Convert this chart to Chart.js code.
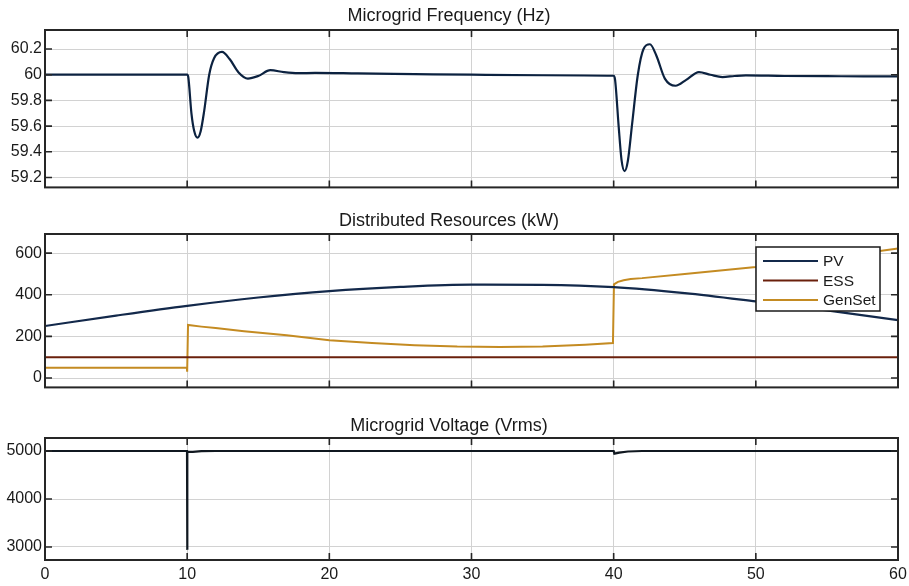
<!doctype html>
<html lang="en">
<head>
  <meta charset="utf-8">
  <title>Microgrid</title>
  <style>
    html, body { margin: 0; padding: 0; background: #fff; }
    #wrap { position: relative; width: 909px; height: 586px; }
    canvas { position: absolute; left: 0; }
  </style>
</head>
<body>
  <div id="wrap">
    <canvas id="freqChart" width="909" height="200" style="top:0"></canvas>
    <canvas id="powerChart" width="909" height="200" style="top:200px"></canvas>
    <canvas id="voltChart" width="909" height="186" style="top:400px"></canvas>
  </div>

  <script src="https://cdn.jsdelivr.net/npm/chart.js@4.4.2/dist/chart.umd.min.js"></script>
  <script>
    // tick labels
    const timeTicks = [0, 10, 20, 30, 40, 50, 60];
    const freqTicks = [59.2, 59.4, 59.6, 59.8, 60, 60.2];
    const powerTicks = [0, 200, 400, 600];
    const voltTicks = [3000, 4000, 5000];

    // Microgrid frequency (Hz)
    const freqT = [0, 10, 10.08, 10.3, 10.5, 10.73, 10.95, 11.2, 11.55, 11.9, 12.45, 13.0, 13.6, 14.27, 15.0, 15.85, 16.8, 17.8, 19, 22, 26, 30, 35, 40,
      40.1, 40.35, 40.55, 40.77, 41.0, 41.3, 41.7, 42.1, 42.55, 43.0, 43.6, 44.35, 45.1, 46.0, 46.8, 47.65, 48.5, 49.3, 52, 56, 60];
    const freqHz = [60, 60, 59.98, 59.7, 59.56, 59.51, 59.56, 59.72, 60.0, 60.13, 60.178, 60.12, 60.02, 59.97, 59.99, 60.035, 60.02, 60.012, 60.014, 60.01, 60.005, 60.0, 59.996, 59.992,
      59.96, 59.6, 59.34, 59.25, 59.33, 59.62, 60.0, 60.2, 60.237, 60.15, 59.97, 59.914, 59.96, 60.02, 60.0, 59.982, 59.99, 59.995, 59.99, 59.988, 59.987];

    // Distributed resources (kW)
    const pvT = [0, 5, 10, 15, 20, 25, 30, 35, 40, 45, 50, 55, 60];
    const pvKw = [250, 300, 347, 387, 418, 438, 449, 448, 437, 408, 368, 325, 278];
    const essT = [0, 60];
    const essKw = [100, 100];
    const genT = [0, 9.98, 10.0, 10.06, 11, 12, 14, 17, 20, 23, 26, 29, 32, 35, 38, 39.95, 40.02, 40.3, 40.7, 41.2, 42, 45, 50, 55, 60];
    const genKw = [50, 50, 30, 255, 247, 240, 225, 205, 182, 168, 158, 151, 149, 152, 160, 168, 450, 462, 470, 476, 480, 500, 533, 575, 622];

    // Microgrid voltage (Vrms)
    const voltT = [0, 9.99, 10.0, 10.02, 10.4, 11, 12, 40, 40.05, 40.4, 41, 42, 60];
    const voltV = [5000, 5000, 2940, 4985, 4982, 4998, 5000, 5000, 4945, 4965, 4990, 5000, 5000];

    Chart.defaults.font.family = '"Liberation Sans", Arial, Helvetica, sans-serif';
    Chart.defaults.color = '#1a1a1a';

    const pts = (xs, ys) => xs.map((x, i) => ({ x: x, y: ys[i] }));

    // MATLAB-ish box with inward ticks
    const frame = {
      id: 'frame',
      afterDatasetsDraw(chart) {
        const { ctx, chartArea: a, scales } = chart;
        ctx.save();
        ctx.strokeStyle = '#262626';
        ctx.lineWidth = 1.6;
        ctx.beginPath();
        scales.x.ticks.forEach(t => {
          const px = scales.x.getPixelForValue(t.value);
          ctx.moveTo(px, a.bottom); ctx.lineTo(px, a.bottom - 7);
          ctx.moveTo(px, a.top); ctx.lineTo(px, a.top + 7);
        });
        scales.y.ticks.forEach(t => {
          const py = scales.y.getPixelForValue(t.value);
          ctx.moveTo(a.left, py); ctx.lineTo(a.left + 7, py);
          ctx.moveTo(a.right, py); ctx.lineTo(a.right - 7, py);
        });
        ctx.stroke();
        ctx.lineWidth = 2;
        ctx.strokeRect(a.left, a.top, a.width, a.height);
        ctx.restore();
      }
    };

    // legend box inside the plot, top right
    const boxLegend = {
      id: 'boxLegend',
      afterDraw(chart) {
        const { ctx, chartArea: a } = chart;
        const w = 124, h = 64;
        const left = a.right - 18 - w, top = a.top + 13;
        ctx.save();
        ctx.fillStyle = '#fff';
        ctx.fillRect(left, top, w, h);
        ctx.strokeStyle = '#1a1a1a';
        ctx.lineWidth = 1.5;
        ctx.strokeRect(left, top, w, h);
        ctx.font = '15.5px "Liberation Sans", Arial, sans-serif';
        ctx.textBaseline = 'middle';
        ctx.fillStyle = '#1a1a1a';
        chart.data.datasets.forEach((ds, i) => {
          const y = top + 14 + i * 19.5;
          ctx.strokeStyle = ds.borderColor;
          ctx.lineWidth = 2;
          ctx.beginPath();
          ctx.moveTo(left + 7, y); ctx.lineTo(left + 62, y);
          ctx.stroke();
          ctx.fillText(ds.label, left + 67, y + 1);
        });
        ctx.restore();
      }
    };

    function makeOptions(title, pad, yMin, yMax, yTicks, xHeight, showX) {
      return {
        responsive: false,
        animation: false,
        layout: { padding: { left: 0, right: 11, top: 0, bottom: 0 } },
        plugins: {
          legend: { display: false },
          tooltip: { enabled: false },
          title: {
            display: true,
            text: title,
            color: '#1a1a1a',
            font: { size: 18, weight: 'normal', lineHeight: 1.2 },
            padding: { top: pad[0], bottom: pad[1] }
          }
        },
        scales: {
          x: {
            type: 'linear',
            min: 0,
            max: 60,
            afterBuildTicks: s => { s.ticks = timeTicks.map(v => ({ value: v })); },
            afterFit: s => { s.height = xHeight; s.paddingLeft = 0; s.paddingRight = 0; },
            grid: { color: '#d2d2d2', lineWidth: 1, drawTicks: false },
            border: { display: false },
            ticks: { display: showX, padding: 5, font: { size: 16 }, maxRotation: 0 }
          },
          y: {
            min: yMin,
            max: yMax,
            afterBuildTicks: s => { s.ticks = yTicks.map(v => ({ value: v })); },
            afterFit: s => { s.width = 45; },
            grid: { color: '#d2d2d2', lineWidth: 1, drawTicks: false },
            border: { display: false },
            ticks: { padding: 3, font: { size: 16 }, callback: v => String(v) }
          }
        }
      };
    }

    new Chart(document.getElementById('freqChart'), {
      type: 'line',
      data: {
        datasets: [{
          label: 'Frequency',
          data: pts(freqT, freqHz),
          borderColor: '#0c2240',
          borderWidth: 2.2,
          pointRadius: 0,
          cubicInterpolationMode: 'monotone'
        }]
      },
      options: makeOptions('Microgrid Frequency (Hz)', [5.2, 3.2], 59.123, 60.348, freqTicks, 10, false),
      plugins: [frame]
    });

    new Chart(document.getElementById('powerChart'), {
      type: 'line',
      data: {
        datasets: [{
          label: 'PV',
          data: pts(pvT, pvKw),
          borderColor: '#13294b',
          borderWidth: 2.2,
          pointRadius: 0,
          cubicInterpolationMode: 'monotone'
        }, {
          label: 'ESS',
          data: pts(essT, essKw),
          borderColor: '#6a200c',
          borderWidth: 2,
          pointRadius: 0
        }, {
          label: 'GenSet',
          data: pts(genT, genKw),
          borderColor: '#c48b22',
          borderWidth: 2,
          pointRadius: 0
        }]
      },
      options: makeOptions('Distributed Resources (kW)', [10.2, 2.2], -45, 692, powerTicks, 7, false),
      plugins: [frame, boxLegend]
    });

    new Chart(document.getElementById('voltChart'), {
      type: 'line',
      data: {
        datasets: [{
          label: 'Voltage',
          data: pts(voltT, voltV),
          borderColor: '#101820',
          borderWidth: 2.2,
          pointRadius: 0
        }]
      },
      options: makeOptions('Microgrid Voltage (Vrms)', [15.2, 1.2], 2729, 5271, voltTicks, 26, true),
      plugins: [frame]
    });
  </script>
</body>
</html>
